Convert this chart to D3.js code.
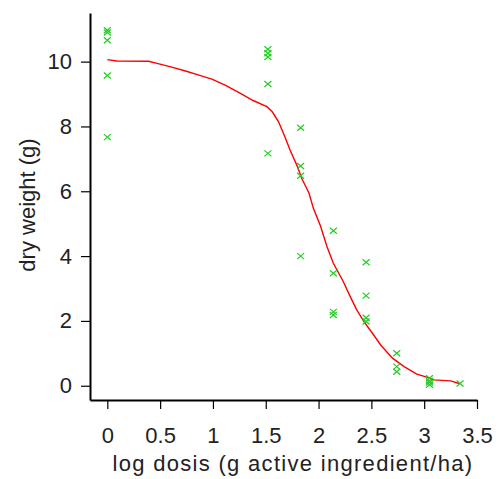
<!DOCTYPE html>
<html>
<head>
<meta charset="utf-8">
<script src="https://cdn.jsdelivr.net/npm/d3@7"></script>
<style>
    body { margin: 0; background: #fff; }
    .axis text { font-family: "Liberation Sans", Arial, sans-serif; font-size: 22px; fill: #222; }
    .axis-label { font-family: "Liberation Sans", Arial, sans-serif; font-size: 22px; fill: #222; }
</style>
</head>
<body>
<div id="chart-area"></div>
<script>
// observed points (log dose, dry weight)
var logDose = [0, 0, 0, 0, 0,
    1.52, 1.52, 1.52, 1.52, 1.52,
    1.83, 1.83, 1.83, 1.83,
    2.14, 2.14, 2.14, 2.14,
    2.45, 2.45, 2.45, 2.45,
    2.74, 2.74, 2.74,
    3.05, 3.05, 3.05, 3.05,
    3.34];
var dryWeight = [10.97, 10.9, 10.66, 9.57, 7.67,
    10.38, 10.26, 10.14, 9.31, 7.17,
    7.96, 6.78, 6.48, 4.0,
    4.78, 3.47, 2.28, 2.18,
    3.81, 2.78, 2.1, 1.98,
    1.0, 0.59, 0.43,
    0.23, 0.15, 0.1, 0.03,
    0.07];

// fitted curve
var fitDose = [0, 0.09, 0.39, 0.48, 0.61, 0.74, 0.86, 0.99, 1.12, 1.26, 1.38, 1.51, 1.56,
    1.62, 1.68, 1.73, 1.80, 1.84, 1.91, 1.95, 2.02, 2.08, 2.14, 2.23, 2.30, 2.36, 2.43,
    2.51, 2.59, 2.70, 2.81, 2.93, 3.04, 3.09, 3.25, 3.33];
var fitWeight = [10.06, 10.02, 10.01, 9.94, 9.83, 9.71, 9.59, 9.46, 9.27, 9.02, 8.80, 8.61, 8.46,
    8.15, 7.69, 7.27, 6.76, 6.40, 5.94, 5.48, 4.91, 4.29, 3.78, 3.24, 2.75, 2.35, 1.98,
    1.62, 1.25, 0.85, 0.59, 0.36, 0.25, 0.18, 0.15, 0.07];

var xTicks = [0, 0.5, 1, 1.5, 2, 2.5, 3, 3.5];
var yTicks = [0, 2, 4, 6, 8, 10];

var width = 500;
var height = 479;

var svg = d3.select("#chart-area")
    .append("svg")
    .attr("width", width)
    .attr("height", height);

var x = d3.scaleLinear()
    .domain([-0.164, 3.5])
    .range([90, 477]);

var y = d3.scaleLinear()
    .domain([-0.44, 11.5])
    .range([400, 13]);

// X axis
var xAxisCall = d3.axisBottom(x)
    .tickValues(xTicks)
    .tickFormat(function(d) { return d; })
    .tickSizeInner(9)
    .tickSizeOuter(0)
    .tickPadding(18);

var xAxisGroup = svg.append("g")
    .attr("class", "x axis")
    .attr("transform", "translate(0,400)")
    .call(xAxisCall);

// Y axis
var yAxisCall = d3.axisLeft(y)
    .tickValues(yTicks)
    .tickSizeInner(9)
    .tickSizeOuter(0)
    .tickPadding(9);

var yAxisGroup = svg.append("g")
    .attr("class", "y axis")
    .attr("transform", "translate(90,0)")
    .call(yAxisCall);

svg.selectAll(".axis .domain")
    .attr("stroke", "#000")
    .attr("stroke-width", 2);
svg.selectAll(".axis .tick line")
    .attr("stroke", "#000")
    .attr("stroke-width", 1.2);

// labels
svg.append("text")
    .attr("class", "axis-label")
    .attr("x", 293)
    .attr("y", 471)
    .attr("text-anchor", "middle")
    .attr("letter-spacing", "1.3px")
    .text("log dosis (g active ingredient/ha)");

svg.append("text")
    .attr("class", "axis-label")
    .attr("transform", "translate(35,205) rotate(-90)")
    .attr("text-anchor", "middle")
    .text("dry weight (g)");

// fitted line
var line = d3.line()
    .x(function(d, i) { return x(fitDose[i]); })
    .y(function(d, i) { return y(fitWeight[i]); });

svg.append("path")
    .datum(fitDose)
    .attr("d", line)
    .attr("fill", "none")
    .attr("stroke", "#ff0000")
    .attr("stroke-width", 1.4);

// cross markers
svg.selectAll(".pt")
    .data(logDose)
    .enter()
    .append("path")
        .attr("class", "pt")
        .attr("transform", function(d, i) {
            return "translate(" + x(d) + "," + y(dryWeight[i]) + ")";
        })
        .attr("d", "M-3.5,-3L3.5,3M-3.5,3L3.5,-3")
        .attr("fill", "none")
        .attr("stroke", "#22cc22")
        .attr("stroke-width", 1.2);
</script>
</body>
</html>
